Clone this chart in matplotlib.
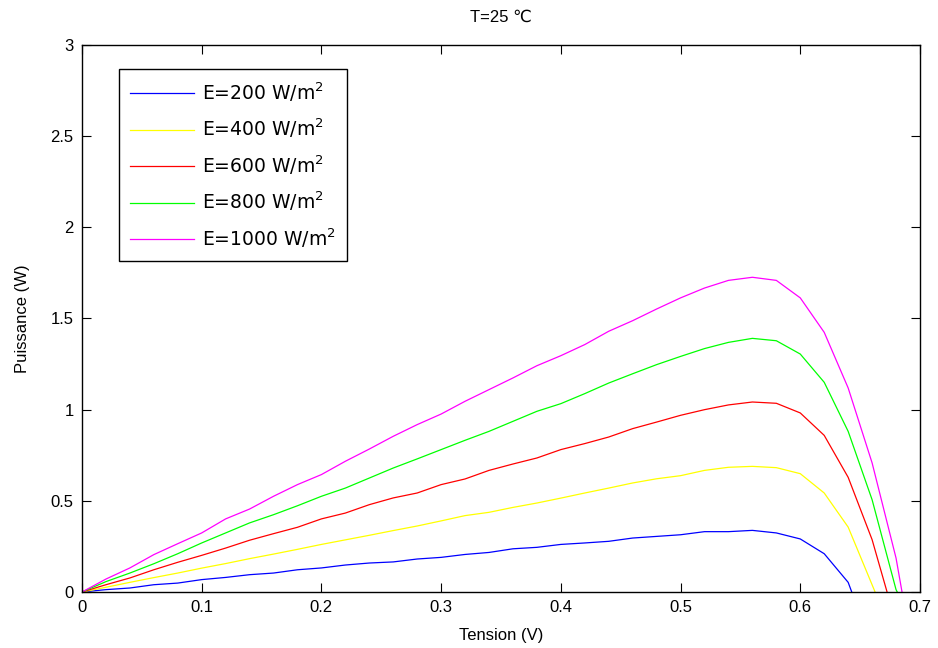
import matplotlib
matplotlib.use("Agg")
import matplotlib.pyplot as plt

plt.rcParams['font.family'] = ['Liberation Sans', 'DejaVu Sans']

# Tension (V)
v = [0.00, 0.02, 0.04, 0.06, 0.08, 0.10, 0.12, 0.14, 0.16, 0.18, 0.20,
     0.22, 0.24, 0.26, 0.28, 0.30, 0.32, 0.34, 0.36, 0.38, 0.40, 0.42,
     0.44, 0.46, 0.48, 0.50, 0.52, 0.54, 0.56, 0.58, 0.60, 0.62, 0.64]

# Puissance (W) for each irradiance
p200 = [0.000, 0.013, 0.022, 0.040, 0.049, 0.068, 0.080, 0.095, 0.104, 0.122, 0.132,
        0.148, 0.159, 0.165, 0.181, 0.190, 0.206, 0.217, 0.237, 0.245, 0.261, 0.269,
        0.278, 0.296, 0.305, 0.314, 0.331, 0.331, 0.338, 0.324, 0.291, 0.210, 0.053]
p400 = [0.000, 0.026, 0.053, 0.079, 0.104, 0.131, 0.156, 0.183, 0.208, 0.234, 0.261,
        0.286, 0.311, 0.337, 0.362, 0.390, 0.419, 0.437, 0.464, 0.488, 0.515, 0.543,
        0.570, 0.598, 0.621, 0.638, 0.667, 0.684, 0.689, 0.682, 0.649, 0.543, 0.356]
p600 = [0.000, 0.040, 0.077, 0.122, 0.163, 0.201, 0.241, 0.284, 0.320, 0.355, 0.401,
        0.433, 0.479, 0.516, 0.543, 0.589, 0.620, 0.667, 0.702, 0.735, 0.781, 0.814,
        0.850, 0.896, 0.932, 0.969, 1.000, 1.026, 1.042, 1.035, 0.982, 0.859, 0.629]
p800 = [0.000, 0.057, 0.104, 0.155, 0.210, 0.269, 0.324, 0.379, 0.424, 0.473, 0.525,
        0.570, 0.625, 0.680, 0.730, 0.781, 0.832, 0.881, 0.936, 0.991, 1.033, 1.088,
        1.146, 1.197, 1.247, 1.292, 1.335, 1.369, 1.391, 1.378, 1.305, 1.150, 0.881]
p1000 = [0.000, 0.071, 0.132, 0.205, 0.265, 0.324, 0.401, 0.455, 0.525, 0.589, 0.644,
         0.717, 0.784, 0.854, 0.918, 0.976, 1.046, 1.110, 1.174, 1.241, 1.296, 1.357,
         1.430, 1.488, 1.552, 1.613, 1.667, 1.709, 1.726, 1.709, 1.613, 1.424, 1.119]

# Tail of each curve down to the open-circuit voltage
tail_v200 = [0.643]
tail_p200 = [0.0]
tail_v400 = [0.6625]
tail_p400 = [0.0]
tail_v600 = [0.66, 0.6725]
tail_p600 = [0.287, 0.0]
tail_v800 = [0.66, 0.68, 0.681]
tail_p800 = [0.506, 0.013, 0.0]
tail_v1000 = [0.66, 0.68, 0.685]
tail_p1000 = [0.708, 0.186, 0.0]

labels = ['E=200 W/m$^2$', 'E=400 W/m$^2$', 'E=600 W/m$^2$',
          'E=800 W/m$^2$', 'E=1000 W/m$^2$']
colors = ['#0000ff', '#ffff00', '#ff0000', '#00ff00', '#ff00ff']

series = [
    (v + tail_v200, p200 + tail_p200),
    (v + tail_v400, p400 + tail_p400),
    (v + tail_v600, p600 + tail_p600),
    (v + tail_v800, p800 + tail_p800),
    (v + tail_v1000, p1000 + tail_p1000),
]

fig = plt.figure(figsize=(9.38, 6.48), dpi=100)
ax = fig.add_axes([0.0874, 0.0864, 0.8934, 0.8442])

for (xs, ys), lab, col in zip(series, labels, colors):
    ax.plot(xs, ys, color=col, linewidth=0.9, label=lab)

ax.set_xlim(0, 0.7)
ax.set_ylim(0, 3)
ax.set_xticks([0, 0.1, 0.2, 0.3, 0.4, 0.5, 0.6, 0.7])
ax.set_xticklabels(['0', '0.1', '0.2', '0.3', '0.4', '0.5', '0.6', '0.7'])
ax.set_yticks([0, 0.5, 1, 1.5, 2, 2.5, 3])
ax.set_yticklabels(['0', '0.5', '1', '1.5', '2', '2.5', '3'])
ax.tick_params(direction='in', top=True, right=True, length=6.5, width=0.8,
               labelsize=12, pad=6, colors='black')
for sp in ax.spines.values():
    sp.set_linewidth(1.0)

ax.set_xlabel('Tension (V)', fontsize=12, labelpad=9)
ax.set_ylabel('Puissance (W)', fontsize=12, labelpad=15)
ax.set_title('T=25 \u2103', fontsize=12, pad=17)

leg = ax.legend(loc='upper left', bbox_to_anchor=(0.0442, 0.9556),
                prop={'family': ['DejaVu Sans'], 'size': 13.5},
                frameon=True, fancybox=False, framealpha=1,
                edgecolor='black', handlelength=3.4, handletextpad=0.42,
                labelspacing=0.69, borderpad=0.6, borderaxespad=0)
leg.get_frame().set_linewidth(1.0)

fig.savefig('out.png', dpi=100)
